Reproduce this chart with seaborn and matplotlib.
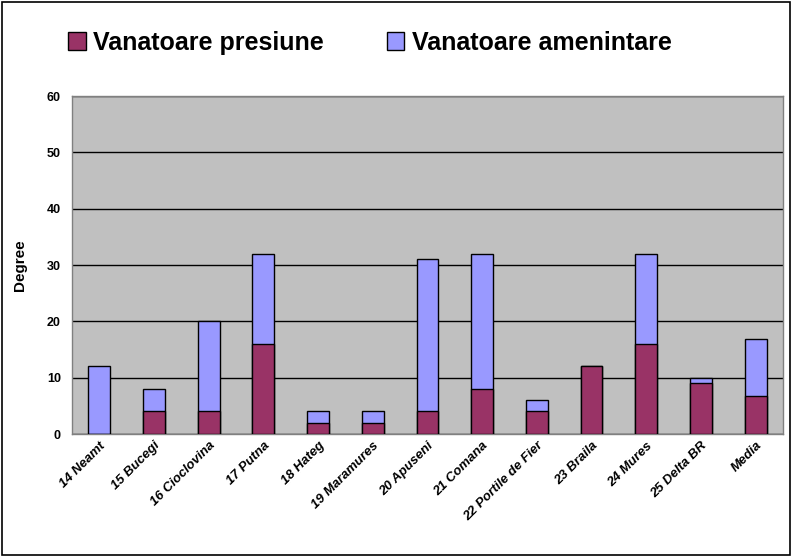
import numpy as np
import pandas as pd
import matplotlib
matplotlib.use("Agg")
import matplotlib.pyplot as plt
from matplotlib.patches import Rectangle, Patch
import seaborn as sns

# ===================== DATE =====================
categorii = ["14 Neamt", "15 Bucegi", "16 Cioclovina", "17 Putna", "18 Hateg",
             "19 Maramures", "20 Apuseni", "21 Comana", "22 Portile de Fier",
             "23 Braila", "24 Mures", "25 Delta BR", "Media"]
presiune = [0, 4, 4, 16, 2, 2, 4, 8, 4, 12, 16, 9, 6.75]
amenintare = [12, 4, 16, 16, 2, 2, 27, 24, 2, 0, 16, 1, 10.1]

COL_PRES = "#993366"
COL_AMEN = "#9999FF"

sns.set_theme(style="white")
plt.rcParams['font.family'] = ['Liberation Sans', 'DejaVu Sans']
plt.rcParams['text.color'] = 'black'
plt.rcParams['xtick.color'] = 'black'
plt.rcParams['ytick.color'] = 'black'
plt.rcParams['axes.labelcolor'] = 'black'

df = pd.DataFrame({"Parc": categorii, "presiune": presiune, "amenintare": amenintare})
df["total"] = df["presiune"] + df["amenintare"]

fig = plt.figure(figsize=(7.92, 5.57), dpi=100)
ax = fig.add_axes([0.0909, 0.2208, 0.8977, 0.6068])
ax.set_facecolor("#C0C0C0")

# total in albastru, apoi presiune peste
sns.barplot(data=df, x="Parc", y="total", color=COL_AMEN, saturation=1,
            width=0.4, edgecolor="black", linewidth=1, ax=ax, zorder=3)
sns.barplot(data=df, x="Parc", y="presiune", color=COL_PRES, saturation=1,
            width=0.4, edgecolor="black", linewidth=1, ax=ax, zorder=4)

ax.set_ylim(0, 60)
ax.set_xlim(-0.5, len(categorii) - 0.5)
ax.set_yticks(range(0, 61, 10))
ax.yaxis.grid(True, color="black", linewidth=1, zorder=1)
ax.set_axisbelow(True)
for s in ax.spines.values():
    s.set_color("#808080")
    s.set_linewidth(1)

ax.set_xlabel("")
ax.set_ylabel("Degree", fontsize=11, fontweight="bold", labelpad=14)
ax.tick_params(axis="y", labelsize=9, length=0, pad=8)
ax.tick_params(axis="x", labelsize=9.5, length=0, pad=4)
for t in ax.get_yticklabels():
    t.set_fontweight("bold")
ax.set_xticks(range(len(categorii)))
ax.set_xticklabels(categorii, rotation=45, ha="right", rotation_mode="anchor",
                   fontweight="bold", fontstyle="italic")
# mici repere intre categorii
ax.set_xticks(np.arange(-0.5, len(categorii), 1), minor=True)
ax.tick_params(axis="x", which="minor", length=4, color="black", direction="out")

handles = [Patch(facecolor=COL_PRES, edgecolor="black", label="Vanatoare presiune"),
           Patch(facecolor=COL_AMEN, edgecolor="black", label="Vanatoare amenintare")]
fig.legend(handles=handles, loc="center", bbox_to_anchor=(0.467, 0.923), ncol=2,
           frameon=False, prop={"size": 18, "weight": "bold"},
           handlelength=0.7, handleheight=0.7, handletextpad=0.3, columnspacing=2.5)

fig.patches.append(Rectangle((0.003, 0.003), 0.994, 0.994, transform=fig.transFigure,
                             fill=False, edgecolor="black", linewidth=1.2))

fig.savefig("out.png", dpi=100)
